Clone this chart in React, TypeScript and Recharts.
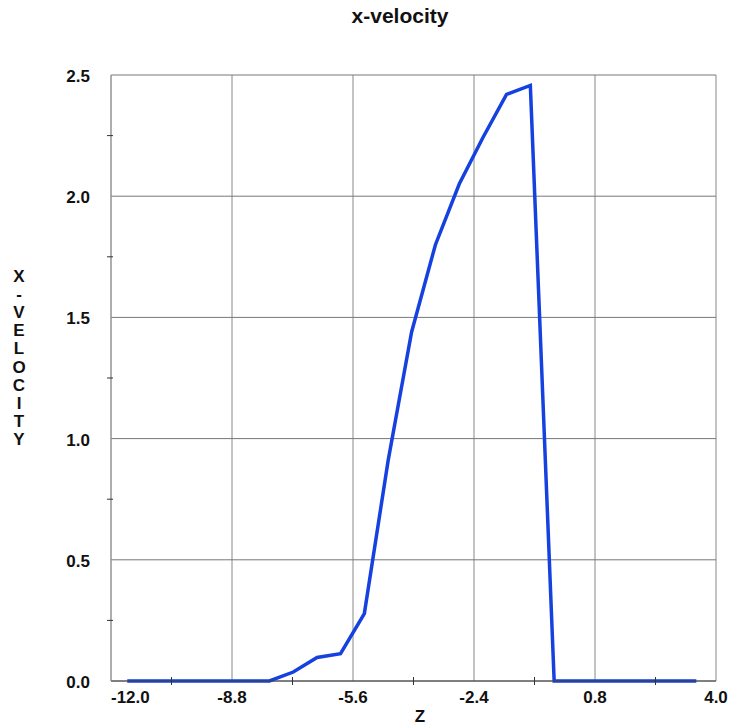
import { Label, Line, LineChart, ReferenceLine, XAxis, YAxis } from "recharts"

const zValues = [
  -11.57, -10.94, -10.32, -9.69, -9.06, -8.44, -7.81, -7.18, -6.55, -5.93, -5.3, -4.67, -4.05,
  -3.42, -2.79, -2.17, -1.54, -0.91, -0.28, 0.34, 0.97, 1.6, 2.22, 2.85, 3.48,
]
const velocity = [
  0, 0, 0, 0, 0, 0, 0, 0.037, 0.097, 0.113, 0.278, 0.91, 1.44, 1.8, 2.05, 2.24, 2.42, 2.457, 0, 0,
  0, 0, 0, 0, 0,
]

const xTicks = [-12, -10.4, -8.8, -7.2, -5.6, -4, -2.4, -0.8, 0.8, 2.4, 4]
const xMajor = [-12, -8.8, -5.6, -2.4, 0.8, 4]
const yTicks = [0, 0.25, 0.5, 0.75, 1, 1.25, 1.5, 1.75, 2, 2.25, 2.5]
const yMajor = [0, 0.5, 1, 1.5, 2, 2.5]

const yLabel = "X-VELOCITY"
const font = "'Liberation Sans', Arial, sans-serif"

const data = zValues.map((z, i) => ({ z, v: velocity[i] }))

function XTick(props: any) {
  const { x, y, payload, index } = props
  const v = payload.value
  if (!xMajor.includes(v)) {
    return <line x1={x} x2={x} y1={y - 4} y2={y + 4} stroke="#333" />
  }
  return (
    <text
      x={x}
      y={y + 22}
      textAnchor={index === 0 ? "start" : "middle"}
      fontFamily={font}
      fontWeight="bold"
      fontSize={17}
      fill="#111"
    >
      {v.toFixed(1)}
    </text>
  )
}

function YTick(props: any) {
  const { x, y, payload } = props
  const v = payload.value
  if (!yMajor.includes(v)) {
    return <line x1={x - 4} x2={x + 2} y1={y} y2={y} stroke="#333" />
  }
  return (
    <text x={x - 21} y={y + 7} textAnchor="end" fontFamily={font} fontWeight="bold" fontSize={17} fill="#111">
      {v.toFixed(1)}
    </text>
  )
}

function StackedLabel() {
  return (
    <text x={19} y={282} textAnchor="middle" fontFamily={font} fontWeight="bold" fontSize={17} fill="#111">
      {yLabel.split("").map((ch, i) => (
        <tspan key={i} x={19} dy={i === 0 ? 0 : 18.1}>
          {ch}
        </tspan>
      ))}
    </text>
  )
}

export default function App() {
  return (
    <div style={{ position: "absolute", left: 0, top: 0, width: 732, height: 726, background: "#fff" }}>
      <div
        style={{
          position: "absolute",
          left: 0,
          top: 4,
          width: 800,
          textAlign: "center",
          fontFamily: font,
          fontWeight: "bold",
          fontSize: 21,
          color: "#111",
        }}
      >
        x-velocity
      </div>
      <LineChart width={732} height={726} data={data} margin={{ top: 75, right: 16, bottom: 0, left: 0 }}>
        {xMajor.map((v) => (
          <ReferenceLine key={"x" + v} x={v} stroke="#888" />
        ))}
        {yMajor.map((v) => (
          <ReferenceLine key={"y" + v} y={v} stroke="#777" />
        ))}
        <XAxis
          type="number"
          dataKey="z"
          domain={[-12, 4]}
          ticks={xTicks}
          interval={0}
          height={45}
          tickSize={0}
          tickMargin={0}
          tickLine={false}
          axisLine={{ stroke: "#444" }}
          tick={<XTick />}
        >
          <Label
            value="Z"
            content={() => (
              <text x={420} y={722} textAnchor="middle" fontFamily={font} fontWeight="bold" fontSize={17} fill="#111">
                Z
              </text>
            )}
          />
        </XAxis>
        <YAxis
          type="number"
          domain={[0, 2.5]}
          ticks={yTicks}
          interval={0}
          width={111}
          tickSize={0}
          tickMargin={0}
          tickLine={false}
          axisLine={{ stroke: "#999" }}
          tick={<YTick />}
        >
          <Label value={yLabel} content={() => <StackedLabel />} />
        </YAxis>
        <Line
          type="linear"
          dataKey="v"
          stroke="#1541e0"
          strokeWidth={3.5}
          dot={false}
          isAnimationActive={false}
        />
      </LineChart>
    </div>
  )
}
